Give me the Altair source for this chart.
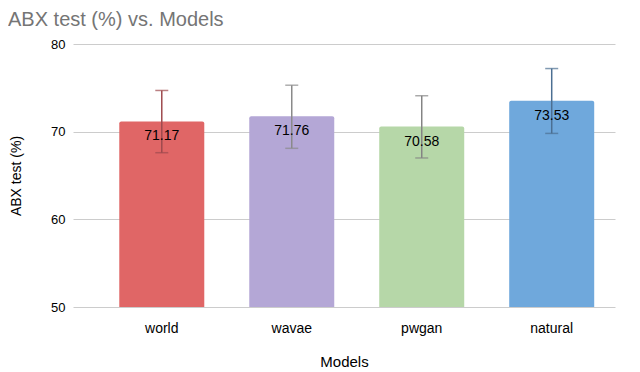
import altair as alt
import pandas as pd

models = ["world", "wavae", "pwgan", "natural"]
scores = [71.17, 71.76, 70.58, 73.53]
err_low = [67.6, 68.1, 67.0, 69.8]
err_high = [74.7, 75.3, 74.1, 77.2]
bar_colors = ["#e06666", "#b4a7d6", "#b6d7a8", "#6fa8dc"]
err_colors = ["#9e4a4e", "#8a8a8a", "#848484", "#4b6f92"]

df = pd.DataFrame({
    "model": models,
    "score": scores,
    "lo": err_low,
    "hi": err_high,
    "label": [f"{v:.2f}" for v in scores],
})

FONT = "Liberation Sans"

x = alt.X("model:N", sort=models, title="Models",
          scale=alt.Scale(paddingInner=0.346, paddingOuter=0.258, align=0.69),
          axis=alt.Axis(labelAngle=0, domain=False, ticks=False, labelPadding=14,
                        titlePadding=19, labelFontSize=14, titleFontSize=15,
                        labelColor="#000000", titleColor="#000000",
                        labelFont=FONT, titleFont=FONT, titleFontWeight="normal"))
yscale = alt.Scale(domain=[50, 80], nice=False, zero=False)

base = alt.Chart(df)

bars = base.mark_bar(cornerRadiusTopLeft=2, cornerRadiusTopRight=2).encode(
    x=x,
    y=alt.Y("score:Q", scale=yscale, title="ABX test (%)",
            axis=alt.Axis(values=[50, 60, 70, 80], domain=False, ticks=False,
                          labelPadding=8, titlePadding=27, labelFontSize=13,
                          titleFontSize=14, labelColor="#000000", titleColor="#000000",
                          gridColor="#cccccc", labelFont=FONT, titleFont=FONT,
                          titleFontWeight="normal")),
    y2=alt.datum(50),
    color=alt.Color("model:N", scale=alt.Scale(domain=models, range=bar_colors), legend=None),
)

rules = base.mark_rule(strokeWidth=1.5).encode(
    x=alt.X("model:N", sort=models),
    y=alt.Y("lo:Q", scale=yscale),
    y2="hi:Q",
    color=alt.Color("model:N", scale=alt.Scale(domain=models, range=err_colors), legend=None),
)

caps_lo = base.mark_tick(size=13, thickness=1.5, orient="horizontal").encode(
    x=alt.X("model:N", sort=models),
    y=alt.Y("lo:Q", scale=yscale),
    color=alt.Color("model:N", scale=alt.Scale(domain=models, range=err_colors), legend=None),
)
caps_hi = base.mark_tick(size=13, thickness=1.5, orient="horizontal").encode(
    x=alt.X("model:N", sort=models),
    y=alt.Y("hi:Q", scale=yscale),
    color=alt.Color("model:N", scale=alt.Scale(domain=models, range=err_colors), legend=None),
)

labels = base.mark_text(dy=15, fontSize=14, font=FONT, color="#000000",
                        baseline="middle").encode(
    x=alt.X("model:N", sort=models),
    y=alt.Y("score:Q", scale=yscale),
    text="label:N",
)

chart = alt.layer(bars, rules, caps_lo, caps_hi, labels).resolve_scale(
    color="independent"
).properties(
    width=542, height=263,
    autosize=alt.AutoSizeParams(type="none"),
    padding={"left": 65, "top": 36, "right": 17, "bottom": 64},
    title=alt.Title("ABX test (%) vs. Models", anchor="start", frame="group",
                    dx=-65, fontSize=20, font=FONT, color="#757575",
                    fontWeight="normal", offset=8),
).configure_view(stroke=None)

chart.save("out.html", embed_options={"renderer": "svg", "actions": False})
